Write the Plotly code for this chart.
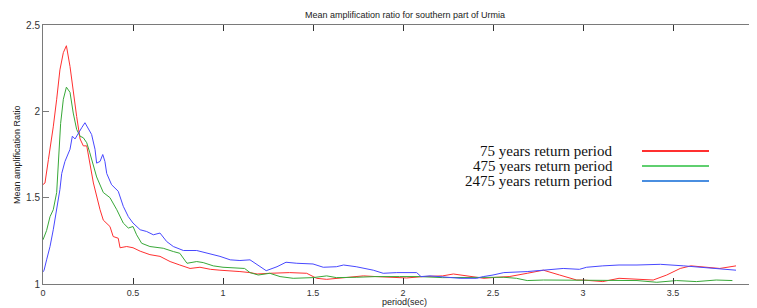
import plotly.graph_objects as go

# 75 years return period (red)
x_75 = [0.0, 0.011, 0.03, 0.039, 0.057, 0.076, 0.094, 0.113, 0.13, 0.15, 0.168, 0.187, 0.206, 0.224, 0.243, 0.26,
        0.28, 0.317, 0.335, 0.372, 0.39, 0.418, 0.428, 0.465, 0.5, 0.54, 0.594, 0.65, 0.706, 0.76, 0.817, 0.872,
        0.93, 0.983, 1.04, 1.094, 1.15, 1.19, 1.26, 1.37, 1.465, 1.52, 1.576, 1.63, 1.705, 1.78, 1.85, 1.93,
        2.02, 2.11, 2.22, 2.28, 2.37, 2.45, 2.52, 2.59, 2.69, 2.78, 2.87, 2.965, 3.0, 3.11, 3.2, 3.3, 3.39,
        3.465, 3.54, 3.6, 3.67, 3.76, 3.85]
y_75 = [1.576, 1.585, 1.72, 1.78, 1.91, 2.07, 2.24, 2.34, 2.38, 2.26, 2.11, 1.97, 1.84, 1.80, 1.80, 1.71,
        1.585, 1.43, 1.37, 1.333, 1.275, 1.265, 1.21, 1.217, 1.21, 1.19, 1.17, 1.16, 1.13, 1.11, 1.09, 1.097,
        1.085, 1.08, 1.077, 1.072, 1.066, 1.058, 1.062, 1.066, 1.062, 1.033, 1.027, 1.033, 1.043, 1.047, 1.043, 1.04,
        1.035, 1.043, 1.047, 1.058, 1.047, 1.033, 1.039, 1.043, 1.062, 1.08, 1.052, 1.023, 1.023, 1.014, 1.033, 1.027, 1.023,
        1.052, 1.09, 1.105, 1.097, 1.09, 1.105]

# 475 years return period (green)
x_475 = [0.0, 0.02, 0.039, 0.057, 0.076, 0.085, 0.098, 0.113, 0.13, 0.15, 0.168, 0.187, 0.206, 0.224, 0.243, 0.26,
         0.28, 0.298, 0.335, 0.372, 0.41, 0.446, 0.474, 0.50, 0.52, 0.548, 0.594, 0.668, 0.724, 0.76, 0.80, 0.854,
         0.89, 0.946, 1.0, 1.094, 1.12, 1.15, 1.196, 1.26, 1.317, 1.39, 1.50, 1.576, 1.63, 1.74, 1.85, 1.98,
         2.09, 2.22, 2.41, 2.56, 2.63, 2.69, 2.78, 2.965, 3.11, 3.3, 3.41, 3.52, 3.63, 3.74, 3.83]
y_475 = [1.256, 1.31, 1.39, 1.43, 1.53, 1.72, 1.93, 2.07, 2.14, 2.11, 1.99, 1.895, 1.856, 1.847, 1.818, 1.76,
         1.68, 1.62, 1.53, 1.50, 1.43, 1.353, 1.324, 1.333, 1.285, 1.236, 1.217, 1.207, 1.188, 1.178, 1.12, 1.13,
         1.124, 1.105, 1.097, 1.09, 1.09, 1.066, 1.052, 1.062, 1.043, 1.033, 1.037, 1.047, 1.037, 1.039, 1.043, 1.043,
         1.043, 1.037, 1.037, 1.039, 1.033, 1.02, 1.023, 1.023, 1.023, 1.02, 1.01, 1.02, 1.014, 1.023, 1.02]

# 2475 years return period (blue)
x_2475 = [0.0, 0.006, 0.02, 0.039, 0.057, 0.076, 0.094, 0.104, 0.113, 0.122, 0.15, 0.163, 0.178, 0.196, 0.215, 0.233,
          0.252, 0.27, 0.289, 0.298, 0.317, 0.332, 0.344, 0.354, 0.381, 0.418, 0.446, 0.474, 0.50, 0.54, 0.576, 0.613,
          0.65, 0.687, 0.724, 0.78, 0.854, 0.928, 0.983, 1.04, 1.094, 1.15, 1.19, 1.24, 1.30, 1.35, 1.41, 1.50,
          1.557, 1.63, 1.67, 1.74, 1.835, 1.89, 1.965, 2.04, 2.076, 2.1, 2.15, 2.2, 2.317, 2.41, 2.446, 2.5,
          2.56, 2.69, 2.78, 2.89, 2.98, 3.02, 3.11, 3.2, 3.3, 3.43, 3.56, 3.67, 3.76, 3.85]
y_2475 = [1.07, 1.08, 1.14, 1.217, 1.314, 1.43, 1.547, 1.64, 1.68, 1.71, 1.78, 1.856, 1.84, 1.876, 1.905, 1.934,
          1.895, 1.866, 1.78, 1.70, 1.71, 1.75, 1.71, 1.64, 1.575, 1.537, 1.45, 1.39, 1.353, 1.314, 1.304, 1.285,
          1.295, 1.246, 1.217, 1.194, 1.194, 1.174, 1.16, 1.14, 1.136, 1.14, 1.114, 1.077, 1.10, 1.126, 1.12, 1.116,
          1.097, 1.10, 1.11, 1.10, 1.08, 1.062, 1.066, 1.066, 1.066, 1.043, 1.047, 1.043, 1.033, 1.033, 1.043, 1.052,
          1.066, 1.072, 1.08, 1.09, 1.085, 1.097, 1.105, 1.11, 1.11, 1.114, 1.105, 1.097, 1.087, 1.08]

series_names = ["75 years return period", "475 years return period", "2475 years return period"]
line_colors = ["#ff3030", "#38a838", "#4848ff"]
legend_colors = ["#ff3030", "#5fcf6f", "#4a8ee0"]

x_ticks = [0, 0.5, 1, 1.5, 2, 2.5, 3, 3.5]
x_tick_labels = ["0", "0.5", "1", "1.5", "2", "2.5", "3", "3.5"]
y_ticks = [1, 1.5, 2, 2.5]
y_tick_labels = ["1", "1.5", "2", "2.5"]

# page has an 8px body margin: the figure is sized so that it fills the window
OFF = 8
W, H = 757 - OFF, 308 - OFF
L, R, T = 43 - OFF, 0, 25 - OFF
B = H - (284 - OFF)
PW, PH = W - L - R, H - T - B


def px_x(page_x):
    return (page_x - OFF - L) / PW


def px_y(page_y):
    return 1 - (page_y - OFF - T) / PH


fig = go.Figure()
for xs, ys, name, col in zip([x_75, x_475, x_2475], [y_75, y_475, y_2475], series_names, line_colors):
    fig.add_trace(go.Scatter(x=xs, y=ys, mode="lines", name=name,
                             line=dict(color=col, width=1), showlegend=False))

axis_gray = "#7a7a7a"
fig.update_layout(
    width=W, height=H,
    margin=dict(l=L, r=R, t=T, b=B, autoexpand=False),
    paper_bgcolor="white", plot_bgcolor="white",
    title=dict(text="Mean amplification ratio for southern part of Urmia",
               x=(405 - OFF) / W, xanchor="center", y=1 - (15 - OFF) / H, yanchor="middle",
               font=dict(family="Liberation Sans, Arial", size=9, color="#222")),
    font=dict(family="Liberation Sans, Arial", size=9, color="#333"),
)
fig.update_xaxes(range=[0, PW / 180], tickvals=x_ticks, ticktext=x_tick_labels,
                 showgrid=False, zeroline=False, showline=True, linecolor=axis_gray, linewidth=1,
                 ticks="inside", ticklen=6, tickcolor="#333", mirror="ticks", automargin=False,
                 ticklabelstandoff=0, tickfont=dict(size=9, color="#333"))
fig.update_yaxes(range=[1, 2.5], tickvals=y_ticks, ticktext=y_tick_labels,
                 showgrid=False, zeroline=False, showline=True, linecolor=axis_gray, linewidth=1,
                 ticks="inside", ticklen=6, tickcolor=axis_gray, automargin=False,
                 tickfont=dict(size=10, color="#333"))

# axis titles
fig.add_annotation(x=px_x(404), y=px_y(308), xref="paper", yref="paper",
                   text="period(sec)", showarrow=False, xanchor="center", yanchor="bottom",
                   font=dict(size=9, color="#222"), borderpad=0)
fig.add_annotation(x=px_x(17), y=px_y(155), xref="paper", yref="paper",
                   text="Mean amplification Ratio", showarrow=False, textangle=-90,
                   xanchor="center", yanchor="middle", font=dict(size=9, color="#222"))

# custom legend: text on the left, line sample on the right
legend_rows = [151, 166, 181]
for name, col, ry in zip(series_names, legend_colors, legend_rows):
    fig.add_annotation(x=px_x(615), y=px_y(ry), xref="paper", yref="paper",
                       text=name, showarrow=False, xanchor="right", yanchor="middle",
                       font=dict(family="Liberation Serif, Times New Roman", size=15, color="#111"))
    fig.add_shape(type="line", xref="paper", yref="paper",
                  x0=px_x(642), x1=px_x(709), y0=px_y(ry), y1=px_y(ry),
                  line=dict(color=col, width=2))

fig.write_html("out.html")
